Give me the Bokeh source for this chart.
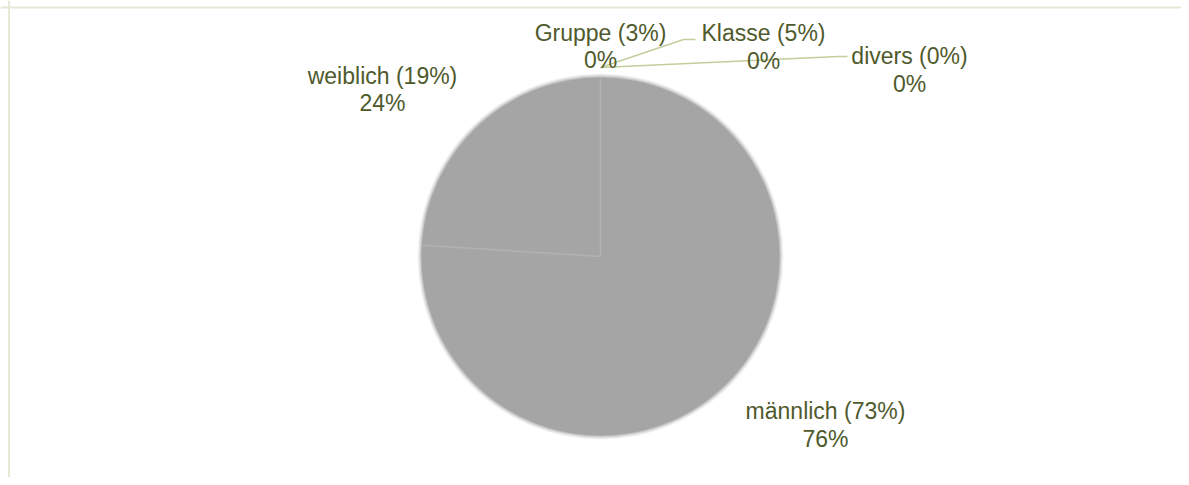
import math
from bokeh.plotting import figure
from bokeh.models import Range1d, Span, ColumnDataSource
from bokeh.core.properties import value
from bokeh.embed import file_html
from bokeh.resources import INLINE

# ---- data ----
categories = ["männlich (73%)", "weiblich (19%)", "Gruppe (3%)", "Klasse (5%)", "divers (0%)"]
values = [76, 24, 0, 0, 0]

# ---- layout (figure pixel coordinates, y up) ----
W, H = 1181, 477
def sx(x):  # screen x -> figure data x
    return x
def sy(y):  # screen y -> figure data y
    return H - y

CX, CY, R = sx(600), sy(256), 179
PIE_COLOR = "#A5A5A5"
TEXT_COLOR = "#4F5A2C"
LEADER_COLOR = "#C6CD9C"
FONT = value("Liberation Sans")
FSIZE = "23px"

# label centres (screen coords) for name line and percent line
label_pos = {
    "männlich (73%)": (825, 410, 438),
    "weiblich (19%)": (382, 75, 102),
    "Gruppe (3%)": (600, 32, 59),
    "Klasse (5%)": (763, 32, 60),
    "divers (0%)": (909, 55, 83),
}

p = figure(width=W, height=H, x_range=Range1d(0, W), y_range=Range1d(0, H),
           output_backend="svg", toolbar_location=None,
           x_axis_location=None, y_axis_location=None, min_border=0,
           outline_line_color=None, background_fill_color="white",
           border_fill_color="white")
p.grid.visible = False

# outer frame lines (top and left only visible)
p.add_layout(Span(location=sy(7), dimension="width", line_color="#E6E9D5", line_width=2))
p.add_layout(Span(location=sx(8.5), dimension="height", line_color="#E6E9D5", line_width=2))

# pie geometry from data
total = float(sum(values))
starts, ends = [], []
cum = 0.0
for v in values:
    f = v / total
    starts.append(math.pi / 2 - 2 * math.pi * cum)
    cum += f
    ends.append(math.pi / 2 - 2 * math.pi * cum)

# soft edge
for k, a in [(4, 0.12), (3, 0.18), (2, 0.28), (1, 0.45)]:
    p.scatter(x=[CX], y=[CY], size=2 * (R + k), marker="circle",
              fill_color=PIE_COLOR, fill_alpha=a, line_color=None)

idx = [i for i, v in enumerate(values) if v > 0]
src = ColumnDataSource(dict(
    x=[CX] * len(idx), y=[CY] * len(idx),
    start=[starts[i] for i in idx], end=[ends[i] for i in idx],
    cat=[categories[i] for i in idx],
))
p.wedge(x="x", y="y", radius=R, start_angle="start", end_angle="end",
        direction="clock", source=src, fill_color=PIE_COLOR, line_color=None)

# slice separators
p.ray(x=[CX] * len(idx), y=[CY] * len(idx), length=R - 1,
      angle=[starts[i] for i in idx], line_color="#B2B2B2", line_width=1.5)

# leader lines for zero slices (from top of pie to labels)
ax, ay = sx(600), sy(67)
p.line(x=[ax, sx(683), sx(695)], y=[ay, sy(39), sy(39)], line_color=LEADER_COLOR, line_width=1.5)
p.line(x=[ax, sx(838), sx(847)], y=[ay, sy(56), sy(56)], line_color=LEADER_COLOR, line_width=1.5)

# labels
names_x, names_y, pct_y, pct_txt = [], [], [], []
for c, v in zip(categories, values):
    lx, ly1, ly2 = label_pos[c]
    names_x.append(sx(lx))
    names_y.append(sy(ly1))
    pct_y.append(sy(ly2))
    pct_txt.append(f"{round(v / total * 100)}%")

p.text(x=names_x, y=names_y, text=categories, text_align="center", text_baseline="middle",
       text_font=FONT, text_font_size=FSIZE, text_color=TEXT_COLOR)
p.text(x=names_x, y=pct_y, text=pct_txt, text_align="center", text_baseline="middle",
       text_font=FONT, text_font_size=FSIZE, text_color=TEXT_COLOR)

open("out.html", "w").write(file_html(p, INLINE))
